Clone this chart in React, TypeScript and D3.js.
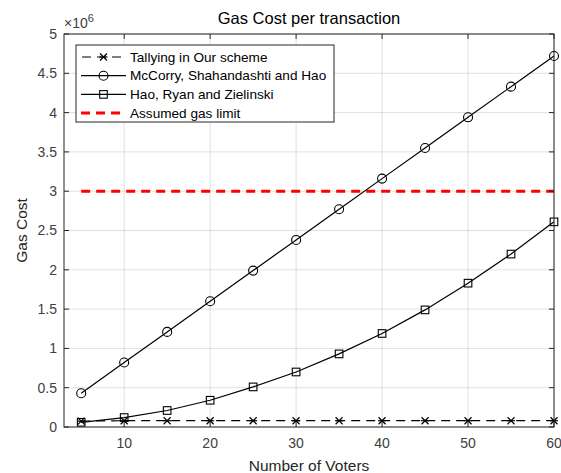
import * as d3 from "d3";
import React from "react";

const voters = [5, 10, 15, 20, 25, 30, 35, 40, 45, 50, 55, 60];
const tallying = [0.075, 0.08, 0.08, 0.08, 0.08, 0.08, 0.08, 0.08, 0.08, 0.08, 0.08, 0.08];
const mccorry = [0.43, 0.82, 1.21, 1.6, 1.99, 2.38, 2.77, 3.16, 3.55, 3.94, 4.33, 4.72];
const haoRyan = [0.06, 0.12, 0.21, 0.34, 0.51, 0.7, 0.93, 1.19, 1.49, 1.83, 2.2, 2.61];
const gasLimit = 3;
const xTicks = [10, 20, 30, 40, 50, 60];
const yTicks = [0, 0.5, 1, 1.5, 2, 2.5, 3, 3.5, 4, 4.5, 5];
const legendLabels = [
    "Tallying in Our scheme",
    "McCorry, Shahandashti and Hao",
    "Hao, Ryan and Zielinski",
    "Assumed gas limit",
];

const W = 561, H = 473;
const m = { left: 64, right: 7, top: 34, bottom: 46 };
const font = "Liberation Sans, Arial, sans-serif";
const axisColor = "#262626";

export default function App() {
    const x = d3.scaleLinear().domain([3, 60]).range([m.left, W - m.right]);
    const y = d3.scaleLinear().domain([0, 5]).range([H - m.bottom, m.top]);
    const line = d3.line<[number, number]>().x(d => x(d[0])).y(d => y(d[1]));
    const pts = (vals: number[]) => voters.map((v, i) => [v, vals[i]] as [number, number]);

    const cross = (cx: number, cy: number, k: string) => (
        <g key={k} stroke="#000" strokeWidth={1.2}>
            <line x1={cx - 3.5} x2={cx + 3.5} y1={cy - 3.5} y2={cy + 3.5} />
            <line x1={cx - 3.5} x2={cx + 3.5} y1={cy + 3.5} y2={cy - 3.5} />
            <line x1={cx - 4} x2={cx + 4} y1={cy} y2={cy} />
        </g>
    );
    const circ = (cx: number, cy: number, k: string) => (
        <circle key={k} cx={cx} cy={cy} r={4.5} fill="none" stroke="#000" strokeWidth={1.1} />
    );
    const sq = (cx: number, cy: number, k: string) => (
        <rect key={k} x={cx - 3.8} y={cy - 3.8} width={7.6} height={7.6} fill="none" stroke="#000" strokeWidth={1.1} />
    );

    const x0 = x.range()[0], x1 = x.range()[1], y0 = y.range()[0], y1 = y.range()[1];
    const lg = { x: 76, y: 45, w: 258, h: 77, row: 18.7 };

    return (
        <svg width={W} height={H} style={{ position: "absolute", left: 0, top: 0, background: "#fff" }} fontFamily={font}>
            {/* grid */}
            {xTicks.map(t => (
                <line key={"gx" + t} x1={x(t)} x2={x(t)} y1={y0} y2={y1} stroke="#000" strokeOpacity={0.12} />
            ))}
            {yTicks.map(t => (
                <line key={"gy" + t} x1={x0} x2={x1} y1={y(t)} y2={y(t)} stroke="#000" strokeOpacity={0.12} />
            ))}

            {/* series */}
            <path d={line(voters.map(v => [v, gasLimit] as [number, number])) ?? undefined} fill="none" stroke="#ff0000" strokeWidth={3} strokeDasharray="9 6" />
            <path d={line(pts(haoRyan)) ?? undefined} fill="none" stroke="#000" strokeWidth={1.2} />
            {pts(haoRyan).map((d, i) => sq(x(d[0]), y(d[1]), "s" + i))}
            <path d={line(pts(mccorry)) ?? undefined} fill="none" stroke="#000" strokeWidth={1.2} />
            {pts(mccorry).map((d, i) => circ(x(d[0]), y(d[1]), "c" + i))}
            <path d={line(pts(tallying)) ?? undefined} fill="none" stroke="#000" strokeWidth={1.2} strokeDasharray="9 6" />
            {pts(tallying).map((d, i) => cross(x(d[0]), y(d[1]), "x" + i))}

            {/* axes box and ticks */}
            <rect x={x0} y={y1} width={x1 - x0} height={y0 - y1} fill="none" stroke={axisColor} strokeWidth={1} />
            {xTicks.map(t => (
                <g key={"tx" + t}>
                    <line x1={x(t)} x2={x(t)} y1={y0} y2={y0 - 5} stroke={axisColor} />
                    <line x1={x(t)} x2={x(t)} y1={y1} y2={y1 + 5} stroke={axisColor} />
                    <text x={x(t)} y={y0 + 21} textAnchor="middle" fontSize={14} fill="#404040">{t}</text>
                </g>
            ))}
            {yTicks.map(t => (
                <g key={"ty" + t}>
                    <line x1={x0} x2={x0 + 5} y1={y(t)} y2={y(t)} stroke={axisColor} />
                    <line x1={x1} x2={x1 - 5} y1={y(t)} y2={y(t)} stroke={axisColor} />
                    <text x={x0 - 7} y={y(t)} dy="0.35em" textAnchor="end" fontSize={14} fill="#404040">{t}</text>
                </g>
            ))}
            <text x={x0} y={y1 - 6} fontSize={14} fill="#404040">
                <tspan>×10</tspan><tspan dy={-6} fontSize={11}>6</tspan>
            </text>

            {/* labels */}
            <text x={(x0 + x1) / 2} y={24} textAnchor="middle" fontSize={16.5} fill="#000">Gas Cost per transaction</text>
            <text x={(x0 + x1) / 2} y={H - 2} textAnchor="middle" fontSize={15.5} fill="#262626">Number of Voters</text>
            <text transform={`translate(27,${(y0 + y1) / 2}) rotate(-90)`} textAnchor="middle" fontSize={15.5} fill="#262626">Gas Cost</text>

            {/* legend */}
            <rect x={lg.x} y={lg.y} width={lg.w} height={lg.h} fill="#fff" stroke={axisColor} />
            {legendLabels.map((lab, i) => {
                const cy = lg.y + 12 + i * lg.row;
                const lx0 = lg.x + 5, lx1 = lg.x + 50, mid = (lx0 + lx1) / 2;
                return (
                    <g key={lab}>
                        {i === 0 && <line x1={lx0} x2={lx1} y1={cy} y2={cy} stroke="#000" strokeWidth={1.2} strokeDasharray="9 6" strokeDashoffset={-1} />}
                        {i === 0 && cross(mid, cy, "lx")}
                        {(i === 1 || i === 2) && <line x1={lx0} x2={lx1} y1={cy} y2={cy} stroke="#000" strokeWidth={1.2} />}
                        {i === 1 && circ(mid, cy, "lc")}
                        {i === 2 && sq(mid, cy, "ls")}
                        {i === 3 && <line x1={lx0} x2={lx1} y1={cy} y2={cy} stroke="#ff0000" strokeWidth={3} strokeDasharray="9 6" />}
                        <text x={lg.x + 54} y={cy} dy="0.35em" fontSize={13.6} fill="#000">{lab}</text>
                    </g>
                );
            })}
        </svg>
    );
}
